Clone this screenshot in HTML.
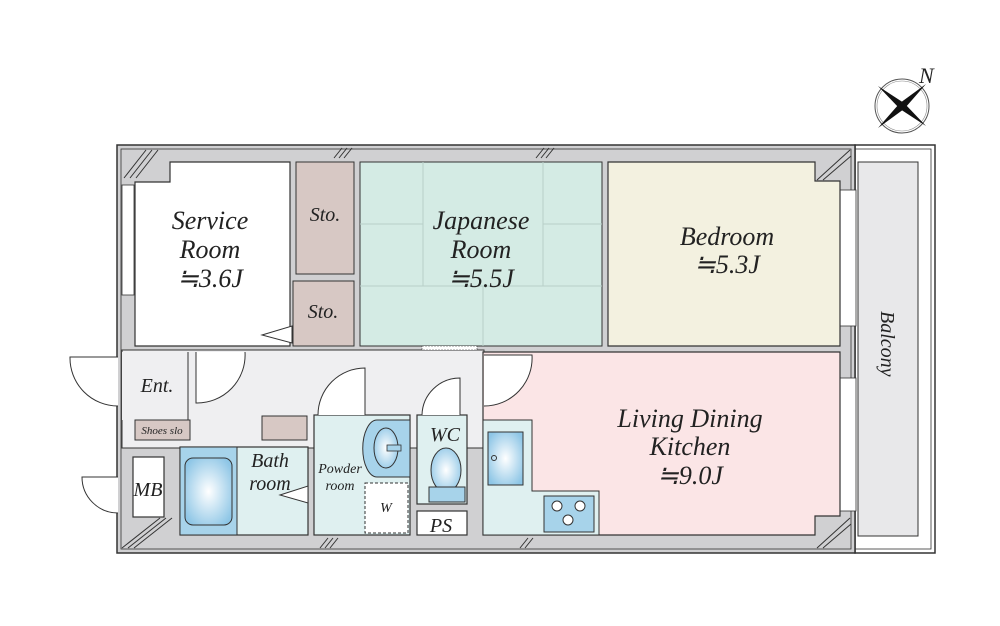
<!DOCTYPE html>
<html><head><meta charset="utf-8"><style>
html,body{margin:0;padding:0;background:#fff;}
svg text{font-family:"Liberation Serif",serif;font-style:italic;fill:#222;}
</style></head><body>
<svg width="1000" height="621" viewBox="0 0 1000 621" xmlns="http://www.w3.org/2000/svg">
<defs>
<radialGradient id="bl" cx="50%" cy="50%" r="60%"><stop offset="0" stop-color="#fff"/><stop offset="1" stop-color="#8ec6e6"/></radialGradient>
</defs>
<!-- balcony -->
<rect x="855" y="145" width="80" height="408" fill="#fff" stroke="#333" stroke-width="1.5"/>
<rect x="852" y="149" width="79" height="400" fill="none" stroke="#333" stroke-width="0.8"/>
<rect x="858" y="162" width="60" height="374" fill="#e8e8ea" stroke="#333" stroke-width="1"/>
<text x="0" y="0" font-size="20" transform="translate(881,311) rotate(90)">Balcony</text>
<!-- main wall -->
<rect x="117" y="145" width="738" height="408" fill="#d0d0d2" stroke="#333" stroke-width="1.5"/>
<rect x="121" y="149" width="730" height="400" fill="none" stroke="#333" stroke-width="0.8"/>
<!-- window strips -->
<rect x="122" y="185" width="12" height="110" fill="#fff" stroke="#333" stroke-width="0.8"/>
<rect x="840" y="190" width="16" height="136" fill="#fff" stroke="#333" stroke-width="0.8"/>
<rect x="840" y="378" width="16" height="133" fill="#fff" stroke="#333" stroke-width="0.8"/>
<rect x="122" y="352" width="12" height="60" fill="#fff"/>
<!-- hallway -->
<rect x="122" y="350" width="362" height="98" fill="#efeff1" stroke="#333" stroke-width="1"/>
<rect x="190" y="412" width="68" height="36" fill="#efeff1"/>
<!-- service room -->
<path d="M170 162 H290 V346 H135 V182 H170 Z" fill="#fff" stroke="#333" stroke-width="1.2"/>
<polygon points="262,335 292,326 292,343" fill="#fff" stroke="#333" stroke-width="1"/>
<!-- storage -->
<rect x="296" y="162" width="58" height="112" fill="#d7c8c4" stroke="#333" stroke-width="1"/>
<rect x="293" y="281" width="61" height="65" fill="#d7c8c4" stroke="#333" stroke-width="1"/>
<!-- japanese -->
<rect x="360" y="162" width="242" height="184" fill="#d4ebe4" stroke="#333" stroke-width="1"/>
<g stroke="#b8cfc8" stroke-width="1">
<line x1="423" y1="162" x2="423" y2="286"/><line x1="543" y1="162" x2="543" y2="286"/>
<line x1="360" y1="286" x2="602" y2="286"/><line x1="483" y1="286" x2="483" y2="346"/>
<line x1="360" y1="224" x2="423" y2="224"/><line x1="543" y1="224" x2="602" y2="224"/>
</g>
<rect x="422" y="346" width="55" height="4" fill="#fff" stroke="#333" stroke-width="0.6" stroke-dasharray="2,1"/>
<!-- bedroom -->
<path d="M608 162 H815 V181 H840 V346 H608 Z" fill="#f3f1e0" stroke="#333" stroke-width="1.2"/>
<!-- LDK -->
<path d="M483 352 H840 V516 H815 V535 H483 Z" fill="#fbe5e6" stroke="#333" stroke-width="1.2"/>
<path d="M483 420 H532 V491 H599 V535 H483 Z" fill="#dff0f0" stroke="#333" stroke-width="1"/>
<rect x="488" y="432" width="35" height="53" fill="url(#bl)" stroke="#333" stroke-width="1"/>
<circle cx="494" cy="458" r="2.5" fill="none" stroke="#333"/>
<rect x="544" y="496" width="50" height="36" fill="#a7d3ea" stroke="#333" stroke-width="1"/>
<g fill="#fff" stroke="#333"><circle cx="557" cy="506" r="5"/><circle cx="580" cy="506" r="5"/><circle cx="568" cy="520" r="5"/></g>
<!-- LDK door -->
<path d="M484 355 H532 A48 48 0 0 1 484 406" fill="#fff" stroke="#333" stroke-width="1"/>
<!-- ent -->
<rect x="122" y="352" width="66" height="68" fill="#efeff1" stroke="none"/>
<line x1="188" y1="352" x2="188" y2="440" stroke="#333" stroke-width="1"/>
<rect x="135" y="420" width="55" height="20" fill="#d7c8c4" stroke="#333" stroke-width="1"/>
<path d="M118 357 H70 A48 48 0 0 0 118 406" fill="#fff" stroke="#333" stroke-width="1"/>
<path d="M196 352 V403 A48 48 0 0 0 245 352" fill="#fff" stroke="#333" stroke-width="1"/>
<rect x="262" y="416" width="45" height="24" fill="#d7c8c4" stroke="#333" stroke-width="1"/>
<!-- bath -->
<rect x="180" y="447" width="128" height="88" fill="#dff0f0" stroke="#333" stroke-width="1.2"/>
<rect x="180" y="447" width="57" height="88" fill="#a7d3ea" stroke="#333" stroke-width="1"/>
<rect x="185" y="458" width="47" height="67" rx="8" fill="url(#bl)" stroke="#333" stroke-width="1"/>
<polygon points="280,495 308,486 308,503" fill="#fff" stroke="#333" stroke-width="1"/>
<!-- powder -->
<rect x="314" y="415" width="96" height="120" fill="#dff0f0" stroke="#333" stroke-width="1.2"/>
<path d="M377 420 H410 V477 H377 A14 28 0 0 1 377 420 Z" fill="#a7d3ea" stroke="#333" stroke-width="1"/>
<ellipse cx="386" cy="448" rx="12" ry="20" fill="url(#bl)" stroke="#333"/>
<rect x="387" y="445" width="14" height="6" fill="#a7d3ea" stroke="#333" stroke-width="0.8"/>
<rect x="365" y="483" width="43" height="50" fill="#fff" stroke="#333" stroke-width="1" stroke-dasharray="3,2"/>
<path d="M318 415 A47 47 0 0 1 365 368 V415" fill="#fff" stroke="#333" stroke-width="1"/>
<!-- WC -->
<rect x="417" y="415" width="50" height="89" fill="#dff0f0" stroke="#333" stroke-width="1.2"/>
<ellipse cx="446" cy="470" rx="15" ry="22" fill="url(#bl)" stroke="#333"/>
<rect x="429" y="487" width="36" height="15" fill="#a7d3ea" stroke="#333" stroke-width="1"/>
<rect x="417" y="511" width="50" height="24" fill="#fff" stroke="#333" stroke-width="1.2"/>
<path d="M422 415 A38 38 0 0 1 460 378 V415" fill="#fff" stroke="#333" stroke-width="1"/>
<!-- MB -->
<rect x="133" y="457" width="31" height="60" fill="#fff" stroke="#333" stroke-width="1.2"/>
<path d="M118 477 H82 A36 36 0 0 0 118 513" fill="#fff" stroke="#333" stroke-width="1"/>
<!-- hatches -->
<g stroke="#333" stroke-width="1">
<line x1="124" y1="178" x2="146" y2="150"/><line x1="130" y1="178" x2="152" y2="150"/><line x1="136" y1="178" x2="158" y2="150"/>
<line x1="334" y1="158" x2="342" y2="148"/><line x1="339" y1="158" x2="347" y2="148"/><line x1="344" y1="158" x2="352" y2="148"/>
<line x1="536" y1="158" x2="544" y2="148"/><line x1="541" y1="158" x2="549" y2="148"/><line x1="546" y1="158" x2="554" y2="148"/>
<line x1="817" y1="180" x2="850" y2="150"/><line x1="823" y1="180" x2="851" y2="156"/>
<line x1="817" y1="548" x2="850" y2="518"/><line x1="823" y1="548" x2="851" y2="524"/>
<line x1="520" y1="548" x2="528" y2="538"/><line x1="525" y1="548" x2="533" y2="538"/>
<line x1="320" y1="548" x2="328" y2="538"/><line x1="325" y1="548" x2="333" y2="538"/><line x1="330" y1="548" x2="338" y2="538"/>
<line x1="122" y1="548" x2="160" y2="518"/><line x1="128" y1="548" x2="166" y2="518"/><line x1="134" y1="548" x2="172" y2="518"/>
</g>
<!-- compass -->
<g transform="translate(902,106)">
<circle r="27" fill="none" stroke="#555" stroke-width="1"/><circle r="25" fill="none" stroke="#888" stroke-width="0.6"/>
<polygon points="-24,-20 2,-3 0,0 -3,2" fill="#111"/><polygon points="24,20 -2,3 0,0 3,-2" fill="#111"/>
<polygon points="24,-22 3,2 0,0 -2,-3" fill="#111"/><polygon points="-24,22 -3,-2 0,0 2,3" fill="#111"/>
<text x="17" y="-23" font-size="22" font-style="italic">N</text>
</g>
<!-- labels -->
<g font-size="26" text-anchor="middle">
<text x="210" y="229">Service</text><text x="210" y="258">Room</text><text x="210" y="287">≒3.6J</text>
<text x="481" y="229">Japanese</text><text x="481" y="258">Room</text><text x="481" y="287">≒5.5J</text>
<text x="727" y="245">Bedroom</text><text x="727" y="273">≒5.3J</text>
<text x="690" y="427">Living Dining</text><text x="690" y="455">Kitchen</text><text x="690" y="484">≒9.0J</text>
</g>
<g font-size="20" text-anchor="middle">
<text x="325" y="221">Sto.</text><text x="323" y="318">Sto.</text>
<text x="157" y="392">Ent.</text><text x="270" y="467">Bath</text><text x="270" y="490">room</text>
<text x="445" y="441">WC</text><text x="441" y="532">PS</text><text x="148" y="496">MB</text>
</g>
<g font-size="14" text-anchor="middle">
<text x="340" y="473">Powder</text><text x="340" y="490">room</text><text x="386" y="512">W</text>
</g>
<text x="162" y="434" font-size="11" text-anchor="middle">Shoes slo</text>
</svg>
</body></html>
